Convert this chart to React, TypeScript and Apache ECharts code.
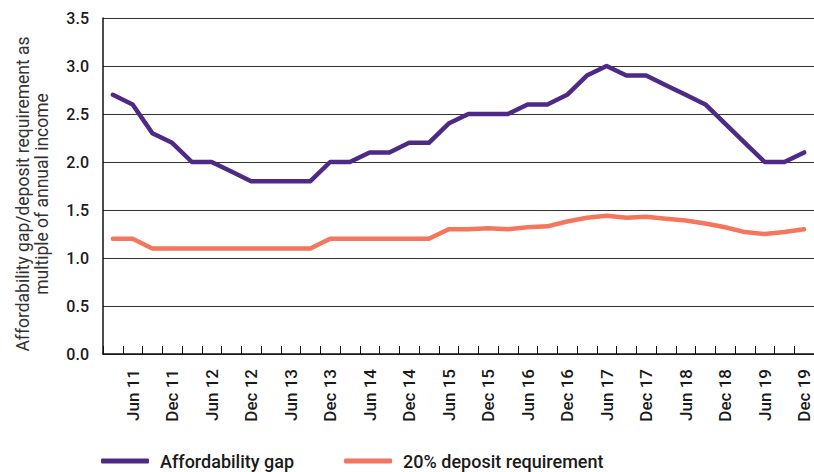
import React, { useEffect, useRef } from "react";
import * as echarts from "echarts";

const months = ["Mar", "Jun", "Sep", "Dec"];
const years = ["11", "12", "13", "14", "15", "16", "17", "18", "19"];
const categories: string[] = [];
years.forEach((y) => months.forEach((m) => categories.push(`${m} ${y}`)));

const affordabilityGap = [
  2.7, 2.6, 2.3, 2.2, 2.0, 2.0, 1.9, 1.8, 1.8, 1.8, 1.8, 2.0, 2.0, 2.1, 2.1, 2.2, 2.2, 2.4,
  2.5, 2.5, 2.5, 2.6, 2.6, 2.7, 2.9, 3.0, 2.9, 2.9, 2.8, 2.7, 2.6, 2.4, 2.2, 2.0, 2.0, 2.1,
];

const depositRequirement = [
  1.2, 1.2, 1.1, 1.1, 1.1, 1.1, 1.1, 1.1, 1.1, 1.1, 1.1, 1.2, 1.2, 1.2, 1.2, 1.2, 1.2, 1.3,
  1.3, 1.31, 1.3, 1.32, 1.33, 1.38, 1.42, 1.44, 1.42, 1.43, 1.41, 1.39, 1.36, 1.32, 1.27, 1.25, 1.27, 1.3,
];

const yTicks = ["0.0", "0.5", "1.0", "1.5", "2.0", "2.5", "3.0", "3.5"];
const yAxisTitle = "Affordability gap/deposit requirement as\nmultiple of annual income";
const seriesNames = ["Affordability gap", "20% deposit requirement"];

const PURPLE = "#4E2A86";
const ORANGE = "#F4765C";
const FONT = "Roboto, 'DejaVu Sans', sans-serif";

export default function App() {
  const ref = useRef<HTMLDivElement>(null);
  useEffect(() => {
    if (!ref.current) return;
    const chart = echarts.init(ref.current, undefined, { renderer: "svg" });
    chart.setOption({
      animation: false,
      textStyle: { fontFamily: FONT },
      grid: { left: 103, right: 0, top: 18, bottom: 118, containLabel: false },
      legend: {
        left: 101,
        top: 452,
        padding: 0,
        itemWidth: 48,
        itemHeight: 5,
        itemGap: 50,
        icon: "roundRect",
        textStyle: { fontSize: 18, fontWeight: 500, color: "#1a1a1a", fontFamily: FONT, padding: [0, 0, 0, 6] },
        data: seriesNames,
      },
      graphic: [
        {
          type: "text",
          x: 32,
          y: 194,
          rotation: Math.PI / 2,
          style: {
            text: yAxisTitle,
            fontSize: 17.5,
            fontFamily: FONT,
            fill: "#333",
            align: "center",
            verticalAlign: "middle",
            lineHeight: 19,
          },
        },
      ],
      xAxis: {
        type: "category",
        data: categories,
        boundaryGap: true,
        axisLine: { lineStyle: { color: "#111", width: 1.5 } },
        axisTick: { show: true, inside: true, length: 8, interval: 0, lineStyle: { color: "#111" } },
        axisLabel: {
          interval: (index: number) => index % 2 === 1,
          rotate: 90,
          margin: 15,
          fontSize: 17,
          fontWeight: 500,
          color: "#1a1a1a",
          fontFamily: FONT,
        },
        splitLine: { show: false },
      },
      yAxis: {
        type: "value",
        min: 0,
        max: 3.5,
        interval: 0.5,
        axisLine: { show: true, lineStyle: { color: "#111", width: 1.5 } },
        axisTick: { show: false },
        axisLabel: {
          margin: 14,
          fontSize: 16,
          fontWeight: 500,
          color: "#1a1a1a",
          fontFamily: FONT,
          formatter: (v: number) => yTicks[Math.round(v / 0.5)] ?? v.toFixed(1),
        },
        splitLine: { show: true, lineStyle: { color: "#333", width: 1.2 } },
      },
      series: [
        {
          name: seriesNames[0],
          type: "line",
          data: affordabilityGap,
          symbol: "none",
          lineStyle: { color: PURPLE, width: 4.5, cap: "round", join: "round" },
          itemStyle: { color: PURPLE },
        },
        {
          name: seriesNames[1],
          type: "line",
          data: depositRequirement,
          symbol: "none",
          lineStyle: { color: ORANGE, width: 4.5, cap: "round", join: "round" },
          itemStyle: { color: ORANGE },
        },
      ],
    });
    return () => chart.dispose();
  }, []);
  return <div ref={ref} style={{ width: 814, height: 472, position: "absolute", left: 0, top: 0 }} />;
}
